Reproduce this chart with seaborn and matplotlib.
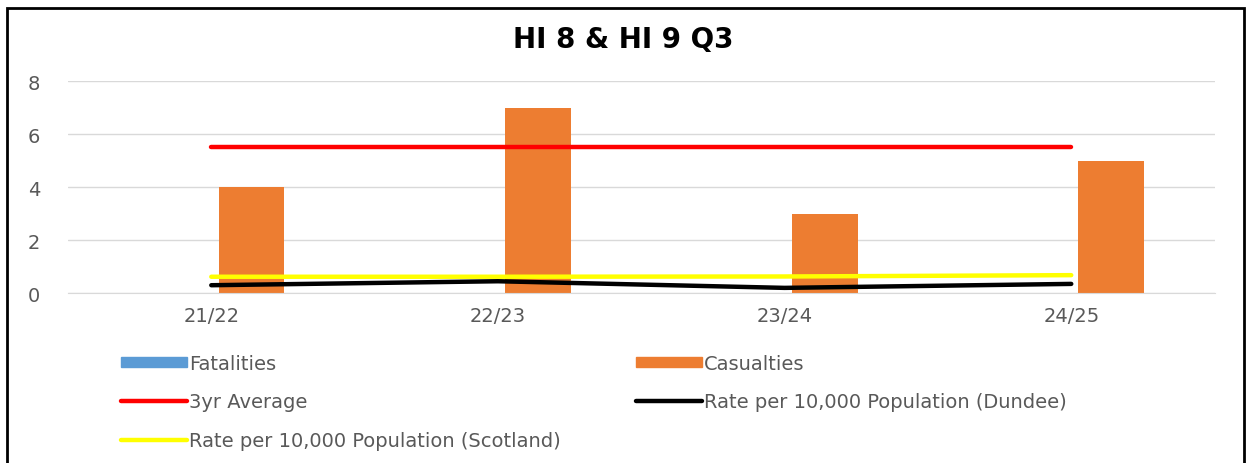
import matplotlib
matplotlib.use("Agg")
import matplotlib.pyplot as plt
import matplotlib.patches as mpatches
import matplotlib.lines as mlines
import seaborn as sns
import pandas as pd

# Données
saisons = ["21/22", "22/23", "23/24", "24/25"]
fatalities = [0, 0, 0, 0]
casualties = [4, 7, 3, 5]
moyenne_3ans = [5.5, 5.5, 5.5, 5.5]
taux_dundee = [0.3, 0.45, 0.2, 0.35]
taux_ecosse = [0.62, 0.62, 0.63, 0.68]

bleu = "#5B9BD5"
orange = "#ED7D31"
gris = "#595959"

sns.set_style("white")
plt.rcParams["font.family"] = ["DejaVu Sans"]

df_barres = pd.DataFrame({
    "saison": saisons * 2,
    "serie": ["Fatalities"] * 4 + ["Casualties"] * 4,
    "valeur": fatalities + casualties,
})

fig = plt.figure(figsize=(12.47, 4.64), dpi=100)
ax = fig.add_axes([0.0545, 0.366, 0.9195, 0.457])

sns.barplot(data=df_barres, x="saison", y="valeur", hue="serie",
            palette=[bleu, orange], saturation=1, width=0.56, gap=0.18,
            linewidth=0, legend=False, ax=ax)

sns.lineplot(x=saisons, y=moyenne_3ans, color="#FF0000", lw=3.2, sort=False, ax=ax)
sns.lineplot(x=saisons, y=taux_ecosse, color="#FFFF00", lw=3.2, sort=False, ax=ax)
sns.lineplot(x=saisons, y=taux_dundee, color="black", lw=3.2, sort=False, ax=ax)

ax.set_xlim(-0.5, 3.5)
ax.set_ylim(0, 8)
ax.set_yticks([0, 2, 4, 6, 8])
ax.yaxis.grid(True, color="#D9D9D9", lw=1)
ax.set_axisbelow(True)
for s in ["top", "right", "left"]:
    ax.spines[s].set_visible(False)
ax.spines["bottom"].set_color("#D9D9D9")
ax.set_xlabel("")
ax.set_ylabel("")
ax.tick_params(axis="both", length=0, labelsize=14, labelcolor=gris)
ax.tick_params(axis="y", pad=20)
ax.tick_params(axis="x", pad=9)

fig.text(0.5, 0.913, "HI 8 & HI 9 Q3", ha="center", va="center",
         fontsize=20, fontweight="bold", color="black")

# Légende en deux blocs
h_fat = mpatches.Patch(color=bleu, label="Fatalities")
h_cas = mpatches.Patch(color=orange, label="Casualties")
h_moy = mlines.Line2D([], [], color="#FF0000", lw=3.2, label="3yr Average")
h_dun = mlines.Line2D([], [], color="black", lw=3.2, label="Rate per 10,000 Population (Dundee)")
h_eco = mlines.Line2D([], [], color="#FFFF00", lw=3.2, label="Rate per 10,000 Population (Scotland)")

kw = dict(frameon=False, fontsize=14, labelcolor=gris, handlelength=3.4,
          handleheight=0.4, handletextpad=0.1, labelspacing=1.0,
          borderaxespad=0, borderpad=0, loc="upper left")
fig.legend(handles=[h_fat, h_moy, h_eco], bbox_to_anchor=(0.097, 0.235), **kw)
fig.legend(handles=[h_cas, h_dun], bbox_to_anchor=(0.51, 0.235), **kw)

# Cadre de la figure
fig.patches.append(mpatches.Rectangle((0.0056, -0.05), 0.992, 1.03,
                                      transform=fig.transFigure, fill=False,
                                      edgecolor="black", lw=2))

fig.savefig("out.png", dpi=100)
